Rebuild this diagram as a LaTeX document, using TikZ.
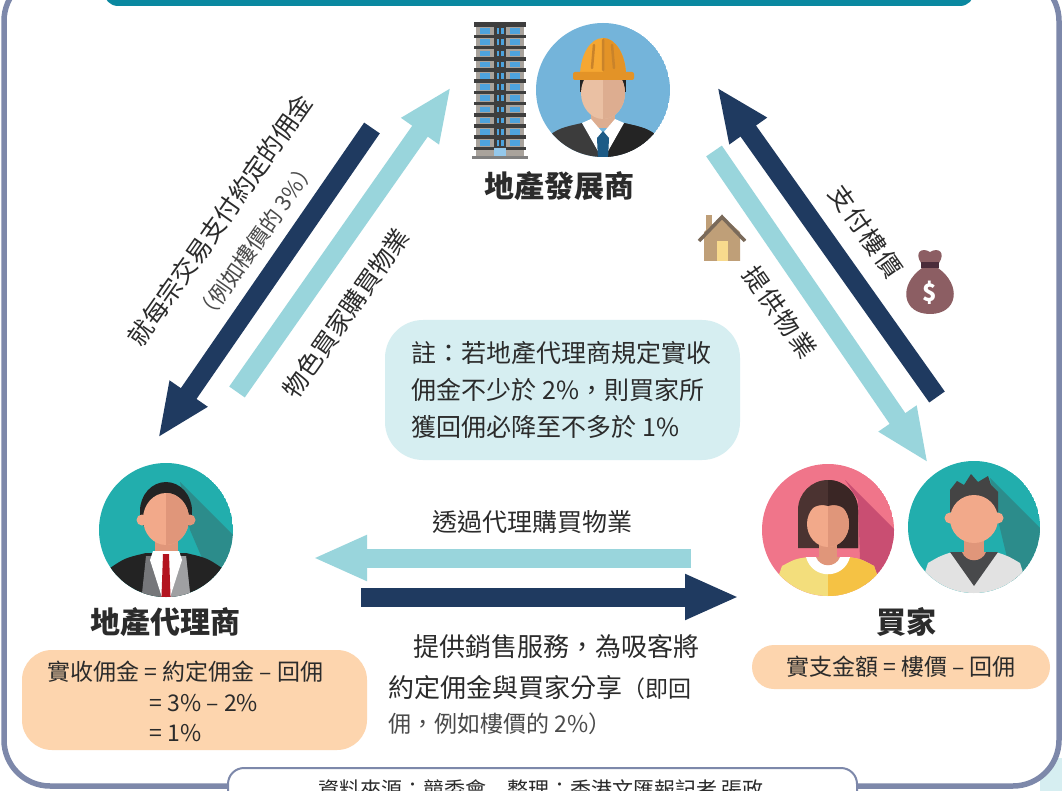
\documentclass[tikz,border=0pt]{standalone}
\usepackage{fontspec}
\setmainfont{Noto Sans CJK TC}
\usetikzlibrary{arrows.meta}

\definecolor{ink}{HTML}{2B2B2B}
\definecolor{navy}{HTML}{1F3A60}
\definecolor{aqua}{HTML}{99D5DC}
\definecolor{notebg}{HTML}{D6EEF1}
\definecolor{peach}{HTML}{FDD5AE}
\definecolor{frameblue}{HTML}{7D88AA}
\definecolor{titleteal}{HTML}{0A88A0}
\definecolor{skyblue}{HTML}{74B4DA}
\definecolor{tealbg}{HTML}{22AEAD}
\definecolor{tealshade}{HTML}{2C8C8B}
\definecolor{pinkbg}{HTML}{F0758A}
\definecolor{pinkshade}{HTML}{C94E72}
\definecolor{skin}{HTML}{F2A98A}
\definecolor{skindark}{HTML}{E0967A}
\definecolor{devskin}{HTML}{EAC0A3}
\definecolor{devskindark}{HTML}{DDAD90}
\definecolor{helmet}{HTML}{F5A732}
\definecolor{helmetdark}{HTML}{E39327}
\definecolor{helmetrib}{HTML}{C9832A}
\definecolor{suitgrey}{HTML}{3C3C3C}
\definecolor{suitblack}{HTML}{242424}
\definecolor{tieblue}{HTML}{1D5B86}
\definecolor{tiered}{HTML}{B3141F}
\definecolor{vestgrey}{HTML}{76777A}
\definecolor{hairblack}{HTML}{232323}
\definecolor{hairbrown}{HTML}{4B3331}
\definecolor{hairbrowndark}{HTML}{3A2625}
\definecolor{yellowtop}{HTML}{F3DE7C}
\definecolor{yellowdark}{HTML}{F5C244}
\definecolor{jacketgrey}{HTML}{E2E2E2}
\definecolor{shirtdark}{HTML}{48494B}
\definecolor{bldgdark}{HTML}{3E3E3E}
\definecolor{bldgwall}{HTML}{A9A39C}
\definecolor{glass}{HTML}{4DA3DE}
\definecolor{bagbrown}{HTML}{8C5E63}
\definecolor{bagdark}{HTML}{4B2C3A}
\definecolor{housetan}{HTML}{BF9F78}
\definecolor{roofgrey}{HTML}{7A6A5A}
\definecolor{dooryellow}{HTML}{F8DA8D}

\tikzset{
  fatarrow/.style={line width=19pt, -{Triangle[length=54pt,width=42pt]}},
  rolename/.style={font=\fontsize{30}{30}\selectfont\bfseries, text=ink},
  flowtext/.style={font=\fontsize{25}{25}\selectfont, text=ink, inner sep=0pt},
  smalltext/.style={font=\fontsize{22}{22}\selectfont, text=ink!85, inner sep=0pt},
  boxtext/.style={font=\fontsize{23}{23}\selectfont, text=ink},
}

\begin{document}
\begin{tikzpicture}[x=1pt,y=-1pt]
\useasboundingbox (0,0) rectangle (1062,791);
\clip (0,0) rectangle (1062,791);

% frame, title bar and source tab
\fill[notebg] (1040,758) rectangle (1062,791);
\draw[frameblue, line width=5.5pt, fill=white, rounded corners=46pt] (4,-25) rectangle (1059,786);
\fill[titleteal, rounded corners=14pt] (104,-40) rectangle (974,6);
\draw[frameblue, line width=2pt, fill=white, rounded corners=16pt] (228,830) rectangle (857,768);
\node[font=\fontsize{21}{21}\selectfont, text=ink] (source) at (541,789) {資料來源：競委會　整理：香港文匯報記者 張政};

% building
\fill[bldgdark] (474,22) rectangle (526,27);
\foreach \k in {0,...,10}{
  \pgfmathsetmacro\fy{27+11.2*\k}
  \fill[bldgwall] (476,\fy) rectangle (524,\fy+7.6);
  \fill[glass] (480,\fy+1.2) rectangle (490,\fy+6.8);
  \fill[glass] (510,\fy+1.2) rectangle (520,\fy+6.8);
  \fill[bldgdark] (494,\fy) rectangle (506,\fy+7.6);
  \fill[glass] (496.5,\fy+1.2) rectangle (499.2,\fy+6.8);
  \fill[glass] (500.8,\fy+1.2) rectangle (503.5,\fy+6.8);
  \fill[bldgdark] (474,\fy+7.6) rectangle (526,\fy+11.2);
}
\fill[bldgwall] (476,150) rectangle (524,158);
\fill[glass!60] (494,148) rectangle (506,158);
\fill[gray] (472,156) rectangle (528,159);

% developer
\begin{scope}
  \clip (603,90) circle (67);
  \fill[skyblue] (603,90) circle (67);
  \fill[suitgrey] (528,165) -- (545,138) .. controls (560,128) .. (582,123) -- (603,158) -- (624,123) .. controls (646,128) .. (661,138) -- (678,165) -- cycle;
  \fill[suitblack] (603,158) -- (624,123) .. controls (646,128) .. (661,138) -- (678,165) -- (603,165) -- cycle;
  \fill[devskindark] (591,105) rectangle (615,128);
  \fill[white] (582,123) -- (591,119) -- (603,133) -- (615,119) -- (624,123) -- (603,160) -- cycle;
  \fill[tieblue] (603,131) -- (609,138) -- (608,160) -- (598,160) -- (597,138) -- cycle;
  \fill[hairblack] (580,76) rectangle (626,92);
  \fill[devskin] (603,93) ellipse [x radius=22, y radius=26];
  \begin{scope}
    \clip (603,60) rectangle (630,125);
    \fill[devskindark] (603,93) ellipse [x radius=22, y radius=26];
  \end{scope}
  \fill[helmet] (580,76) arc[start angle=180, end angle=360, x radius=23, y radius=38] -- cycle;
  \fill[helmetdark] (603,38) arc[start angle=270, end angle=360, x radius=23, y radius=38] -- (603,76) -- cycle;
  \fill[helmetdark, rounded corners=2pt] (573,72) rectangle (634,80);
  \draw[helmetrib, line width=2.5pt, line cap=round] (603,40) -- (603,70) (594,45) -- (592,68) (612,45) -- (614,68);
\end{scope}
\node[rolename] (developer) at (559,186) {地產發展商};

% agent
\begin{scope}
  \clip (166,530) circle (67);
  \fill[tealbg] (166,530) circle (67);
  \fill[tealshade] (180,482) -- (262,564) -- (262,640) -- (222,640) -- (205,565) -- (190,530) -- cycle;
  \fill[hairblack] (95,612) -- (110,568) .. controls (125,558) .. (146,553) -- (186,553) .. controls (207,558) .. (222,568) -- (237,612) -- cycle;
  \fill[vestgrey] (146,556) -- (186,556) -- (192,612) -- (140,612) -- cycle;
  \fill[vestgrey!70] (166,556) -- (186,556) -- (192,612) -- (166,612) -- cycle;
  \fill[skindark] (155,536) rectangle (178,556);
  \fill[white] (153,551) -- (179,551) -- (182,560) -- (166,610) -- (150,560) -- cycle;
  \fill[tiered] (163,554) -- (169,554) -- (171,610) -- (161,610) -- cycle;
  \fill[hairblack] (166,511) ellipse [x radius=26, y radius=29];
  \fill[skin] (142,520) circle (5.5);
  \fill[skindark] (190,520) circle (5.5);
  \fill[skin] (166,519) ellipse [x radius=23, y radius=26];
  \begin{scope}
    \clip (166,480) rectangle (200,560);
    \fill[skindark] (166,519) ellipse [x radius=23, y radius=26];
  \end{scope}
\end{scope}
\node[rolename] (agent) at (165,622) {地產代理商};

% buyer: woman
\begin{scope}
  \clip (828,530) circle (66);
  \fill[pinkbg] (828,530) circle (66);
  \fill[pinkshade] (845,480) -- (930,565) -- (930,640) -- (872,640) -- (860,560) -- (858,500) -- cycle;
  \fill[hairbrown] (798,548) -- (798,510) arc[start angle=180, end angle=360, radius=30] -- (858,548) -- cycle;
  \fill[hairbrowndark] (828,480) arc[start angle=270, end angle=360, radius=30] -- (858,548) -- (828,548) -- cycle;
  \fill[skindark] (819,540) rectangle (837,562);
  \fill[yellowtop] (766,612) -- (782,566) .. controls (795,559) .. (808,557) -- (848,557) .. controls (861,559) .. (874,566) -- (890,612) -- cycle;
  \fill[yellowdark] (828,557) -- (848,557) .. controls (861,559) .. (874,566) -- (890,612) -- (828,612) -- cycle;
  \fill[white] (806,557) .. controls (812,580) and (844,580) .. (850,557) -- cycle;
  \fill[skindark] (816,557) .. controls (820,568) and (836,568) .. (840,557) -- cycle;
  \fill[skin] (828,524) ellipse [x radius=21, y radius=23];
  \begin{scope}
    \clip (828,490) rectangle (860,560);
    \fill[skindark] (828,524) ellipse [x radius=21, y radius=23];
  \end{scope}
  \fill[hairbrown] (807,515) .. controls (808,500) and (818,494) .. (828,494) -- (828,506) .. controls (818,503) and (810,508) .. (807,515) -- cycle;
  \fill[hairbrowndark] (849,515) .. controls (848,500) and (838,494) .. (828,494) -- (828,506) .. controls (838,503) and (846,508) .. (849,515) -- cycle;
\end{scope}

% buyer: man
\begin{scope}
  \clip (974,527) circle (66);
  \fill[tealbg] (974,527) circle (66);
  \fill[tealshade] (990,478) -- (1082,570) -- (1082,640) -- (1025,640) -- (1010,570) -- (998,520) -- cycle;
  \fill[jacketgrey] (912,612) -- (928,563) .. controls (940,556) .. (952,552) -- (996,552) .. controls (1008,556) .. (1020,563) -- (1036,612) -- cycle;
  \fill[shirtdark] (950,552) -- (998,552) -- (974,586) -- cycle;
  \fill[skindark] (964,534) rectangle (984,556);
  \fill[skindark] (962,552) .. controls (966,563) and (982,563) .. (986,552) -- cycle;
  \fill[hairblack!85] (950,512) -- (950,490) -- (957,481) -- (964,485) -- (971,474) -- (978,482) -- (988,476) -- (991,485) -- (998,492) -- (998,512) -- cycle;
  \fill[skin] (950,518) circle (5.5);
  \fill[skin] (998,518) circle (5.5);
  \fill[skin] (974,519) ellipse [x radius=24, y radius=24];
\end{scope}
\node[rolename] (buyer) at (906,622) {買家};

% house and money bag
\fill[housetan] (704,261) -- (704,232) -- (722,216) -- (740,232) -- (740,261) -- cycle;
\fill[housetan] (706,215) rectangle (712,230);
\fill[dooryellow] (717,241) rectangle (728,261);
\draw[roofgrey, line width=3.5pt] (699,241) -- (722,217) -- (745,241);
\fill[bagbrown] (922,268) .. controls (898,285) and (902,314) .. (930,314) .. controls (958,314) and (962,285) .. (938,268) -- cycle;
\fill[bagbrown] (921,263) .. controls (914,252) and (922,247) .. (930,252) .. controls (938,247) and (946,252) .. (939,263) -- cycle;
\fill[bagdark] (921,262) rectangle (939,268);
\node[text=white, font=\fontsize{24}{24}\selectfont\bfseries] (dollar) at (930,293) {\$};

% diagonal arrows
\coordinate (devL) at (372,128);
\coordinate (agtU) at (158,438);
\coordinate (agtR) at (237,392);
\coordinate (devD) at (451,87);
\coordinate (buyU) at (937,397);
\coordinate (devR) at (717,87);
\coordinate (devB) at (714,151);
\coordinate (buyT) at (928,463);
\draw[fatarrow, navy] (devL) -- (agtU);
\draw[fatarrow, aqua] (agtR) -- (devD);
\draw[fatarrow, navy] (buyU) -- (devR);
\draw[fatarrow, aqua] (devB) -- (buyT);

% horizontal arrows
\coordinate (buyL) at (691,558);
\coordinate (agtE) at (313,558);
\coordinate (agtF) at (361,597);
\coordinate (buyW) at (739,597);
\draw[fatarrow, aqua] (buyL) -- (agtE);
\draw[fatarrow, navy] (agtF) -- (buyW);

% arrow labels
\node[flowtext, rotate=55] (paycomm) at (220,220) {就每宗交易支付約定的佣金};
\node[smalltext, rotate=55] (paycommeg) at (256,241) {（例如樓價的 3\%）};
\node[flowtext, rotate=55] (findbuyer) at (346,313) {物色買家購買物業};
\node[flowtext, rotate=-55] (payprice) at (866,231) {支\kern2pt 付\kern2pt 樓\kern2pt 價};
\node[flowtext, rotate=-55] (giveprop) at (780,312) {提\kern2pt 供\kern2pt 物\kern2pt 業};
\node[flowtext] (viaagent) at (532,522) {透過代理購買物業};
\node[flowtext, font=\fontsize{26}{26}\selectfont, anchor=west] (service1) at (413,647) {提供銷售服務，為吸客將};
\node[flowtext, font=\fontsize{26}{26}\selectfont, anchor=west] (service2) at (388,688) {約定佣金與買家分享{\fontsize{23}{23}\selectfont（即回}};
\node[smalltext, font=\fontsize{23}{23}\selectfont, anchor=west] (service3) at (388,724) {佣，例如樓價的 2\%）};

% note
\fill[notebg, rounded corners=38pt] (385,320) rectangle (740,460);
\node[boxtext, font=\fontsize{25}{25}\selectfont, anchor=west] (note1) at (408,353) {註：若地產代理商規定實收};
\node[boxtext, font=\fontsize{25}{25}\selectfont, anchor=west] (note2) at (408,390) {佣金不少於 2\%，則買家所};
\node[boxtext, font=\fontsize{25}{25}\selectfont, anchor=west] (note3) at (408,427) {獲回佣必降至不多於 1\%};

% sums
\fill[peach, rounded corners=30pt] (22,650) rectangle (367,750);
\node[boxtext, anchor=west] (agentsum1) at (44,672) {實收佣金 = 約定佣金 – 回佣};
\node[boxtext, anchor=west] (agentsum2) at (146,703) {= 3\% – 2\%};
\node[boxtext, anchor=west] (agentsum3) at (146,733) {= 1\%};
\fill[peach, rounded corners=22pt] (752,645) rectangle (1050,689);
\node[boxtext] (buyersum) at (901,667) {實支金額 = 樓價 – 回佣};
\end{tikzpicture}
\end{document}
